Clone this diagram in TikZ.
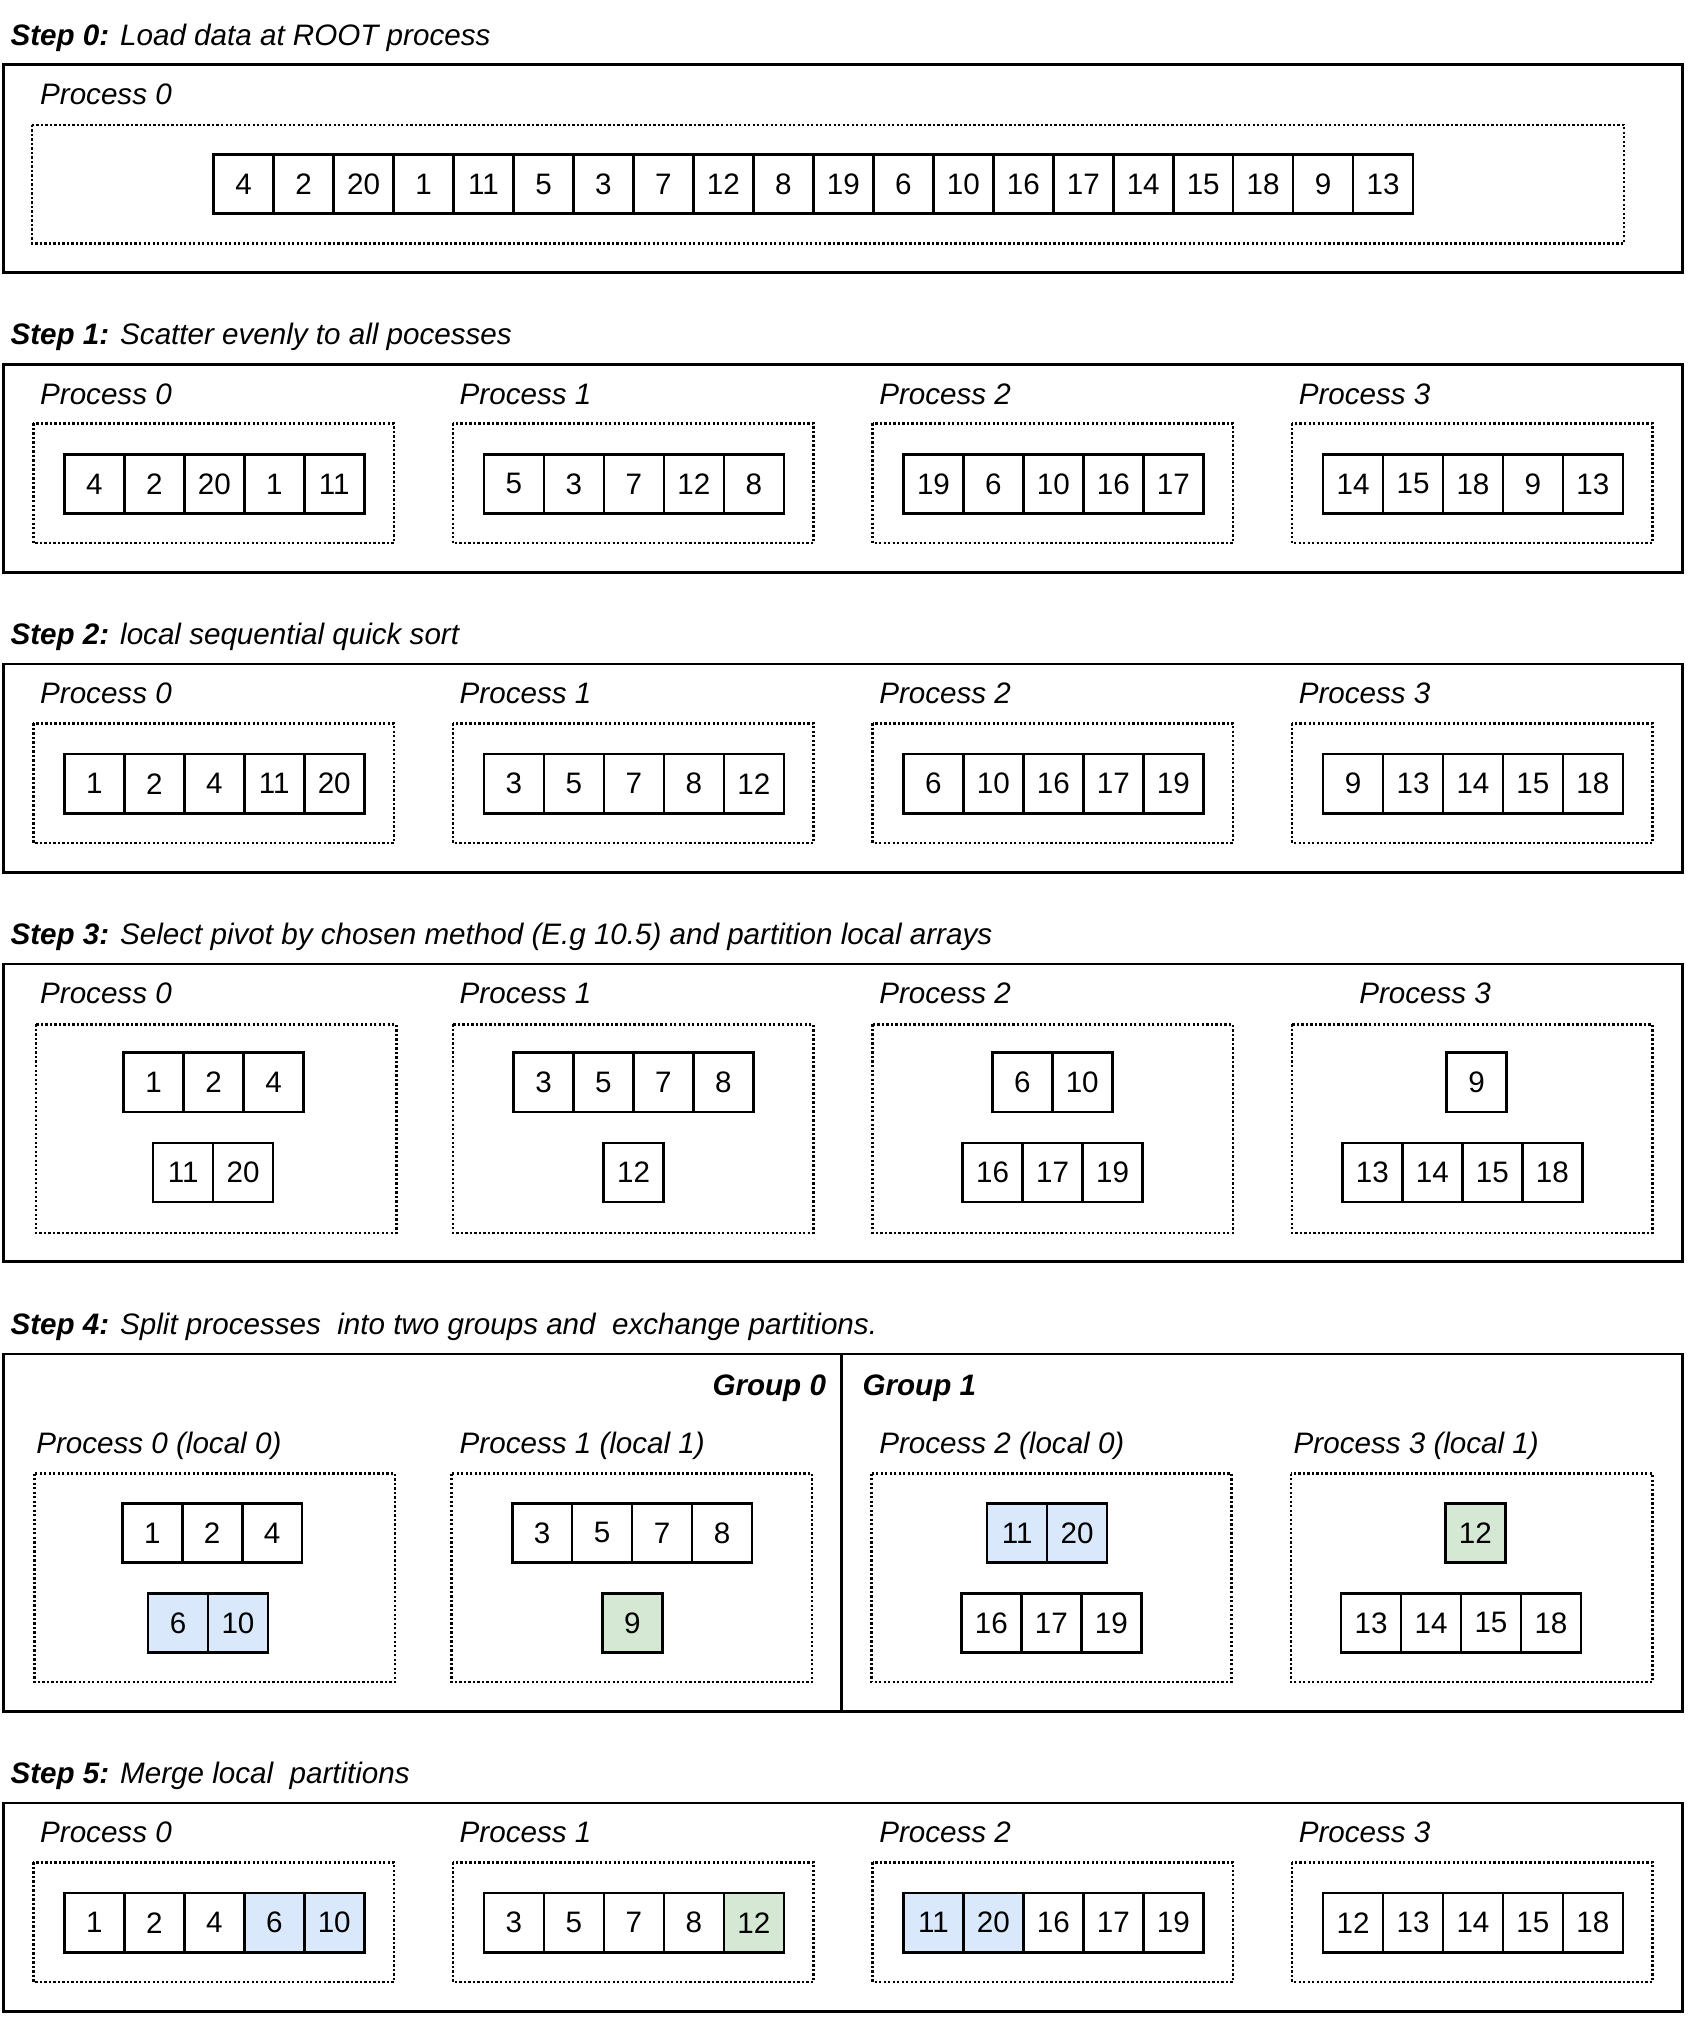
\documentclass[tikz,border=0pt]{standalone}
\usepackage{fontspec}
\setmainfont{Liberation Sans}
\definecolor{cblue}{HTML}{DAE8FC}
\definecolor{cgreen}{HTML}{D5E8D4}
\newcommand\cellrow[4]{%
  \foreach \v/\c [count=\i] in {#4} {%
    \node[cell,fill=\c] (#1-\i) at ({#2+(\i-0.5)*46.6},#3) {\v};}}
\begin{document}
\begin{tikzpicture}[x=1pt,y=-1pt,
  font=\fontsize{23}{27}\selectfont,
  outerbox/.style={draw,line width=2.1pt},
  procbox/.style={draw,line width=2pt,dash pattern=on 1.8pt off 1.7pt},
  cell/.style={draw,line width=2pt,minimum width=46.6pt,minimum height=46pt,inner sep=0pt},
  steptitle/.style={anchor=base west,inner sep=0pt,font=\fontsize{23}{27}\selectfont\itshape},
  plabel/.style={anchor=base west,inner sep=0pt,font=\fontsize{23}{27}\selectfont\itshape},
  glabel/.style={inner sep=0pt,font=\fontsize{23}{27}\selectfont\bfseries\itshape}]
\useasboundingbox (0,0) rectangle (1311,1568);

% ---------------- Step 0
\node[steptitle] (t0) at (8,35) {\textbf{Step 0:} Load data at ROOT process};
\draw[outerbox] (2.5,50) rectangle (1307.5,212);
\node[plabel] (s0p0) at (31,81) {Process 0};
\draw[procbox] (25,97) rectangle (1262,189);
\cellrow{a}{166}{143}{4/white,2/white,20/white,1/white,11/white,5/white,3/white,7/white,12/white,8/white,19/white,6/white,10/white,16/white,17/white,14/white,15/white,18/white,9/white,13/white}

% ---------------- Step 1
\node[steptitle] (t1) at (8,268) {\textbf{Step 1:} Scatter evenly to all pocesses};
\draw[outerbox] (2.5,283) rectangle (1307.5,445);
\foreach \k/\x in {0/31,1/357,2/683,3/1009}
  \node[plabel] (s1p\k) at (\x,314) {Process \k};
\foreach \x in {26,352,678,1004}
  \draw[procbox] (\x,329) rectangle (\x+280,422);
\cellrow{b0}{50}{376}{4/white,2/white,20/white,1/white,11/white}
\cellrow{b1}{376}{376}{5/white,3/white,7/white,12/white,8/white}
\cellrow{b2}{702}{376}{19/white,6/white,10/white,16/white,17/white}
\cellrow{b3}{1028}{376}{14/white,15/white,18/white,9/white,13/white}

% ---------------- Step 2
\node[steptitle] (t2) at (8,501) {\textbf{Step 2:} local sequential quick sort};
\draw[outerbox] (2.5,516) rectangle (1307.5,678);
\foreach \k/\x in {0/31,1/357,2/683,3/1009}
  \node[plabel] (s2p\k) at (\x,547) {Process \k};
\foreach \x in {26,352,678,1004}
  \draw[procbox] (\x,562) rectangle (\x+280,655);
\cellrow{c0}{50}{609}{1/white,2/white,4/white,11/white,20/white}
\cellrow{c1}{376}{609}{3/white,5/white,7/white,8/white,12/white}
\cellrow{c2}{702}{609}{6/white,10/white,16/white,17/white,19/white}
\cellrow{c3}{1028}{609}{9/white,13/white,14/white,15/white,18/white}

% ---------------- Step 3
\node[steptitle] (t3) at (8,734) {\textbf{Step 3:} Select pivot by chosen method (E.g 10.5) and partition local arrays};
\draw[outerbox] (2.5,749) rectangle (1307.5,980);
\node[plabel] (s3p0) at (31,780) {Process 0};
\node[plabel] (s3p1) at (357,780) {Process 1};
\node[plabel] (s3p2) at (683,780) {Process 2};
\node[plabel] (s3p3) at (1056,780) {Process 3};
\draw[procbox] (28,796) rectangle (308,958);
\draw[procbox] (352,796) rectangle (632,958);
\draw[procbox] (678,796) rectangle (958,958);
\draw[procbox] (1004,796) rectangle (1284,958);
\cellrow{d0t}{96}{841}{1/white,2/white,4/white}
\cellrow{d0b}{119}{911}{11/white,20/white}
\cellrow{d1t}{399}{841}{3/white,5/white,7/white,8/white}
\cellrow{d1b}{469}{911}{12/white}
\cellrow{d2t}{771}{841}{6/white,10/white}
\cellrow{d2b}{748}{911}{16/white,17/white,19/white}
\cellrow{d3t}{1124}{841}{9/white}
\cellrow{d3b}{1043}{911}{13/white,14/white,15/white,18/white}

% ---------------- Step 4
\node[steptitle] (t4) at (8,1037) {\textbf{Step 4:} Split processes\ \ into two groups and\ \ exchange partitions.};
\draw[outerbox] (2.5,1052) rectangle (1307.5,1330);
\draw[line width=2.1pt] (654,1052) -- (654,1330);
\node[glabel,anchor=base east] (g0) at (642,1084) {Group 0};
\node[glabel,anchor=base west] (g1) at (670,1084) {Group 1};
\node[plabel] (s4p0) at (28,1129) {Process 0 (local 0)};
\node[plabel] (s4p1) at (357,1129) {Process 1 (local 1)};
\node[plabel] (s4p2) at (683,1129) {Process 2 (local 0)};
\node[plabel] (s4p3) at (1005,1129) {Process 3 (local 1)};
\draw[procbox] (27,1145) rectangle (307,1307);
\draw[procbox] (351,1145) rectangle (631,1307);
\draw[procbox] (677,1145) rectangle (957,1307);
\draw[procbox] (1003,1145) rectangle (1284,1307);
\cellrow{e0t}{95}{1191}{1/white,2/white,4/white}
\cellrow{e0b}{115}{1261}{6/cblue,10/cblue}
\cellrow{e1t}{398}{1191}{3/white,5/white,7/white,8/white}
\cellrow{e1b}{468}{1261}{9/cgreen}
\cellrow{e2t}{767}{1191}{11/cblue,20/cblue}
\cellrow{e2b}{747}{1261}{16/white,17/white,19/white}
\cellrow{e3t}{1123}{1191}{12/cgreen}
\cellrow{e3b}{1042}{1261}{13/white,14/white,15/white,18/white}

% ---------------- Step 5
\node[steptitle] (t5) at (8,1386) {\textbf{Step 5:} Merge local\ \ partitions};
\draw[outerbox] (2.5,1401) rectangle (1307.5,1563);
\foreach \k/\x in {0/31,1/357,2/683,3/1009}
  \node[plabel] (s5p\k) at (\x,1432) {Process \k};
\foreach \x in {26,352,678,1004}
  \draw[procbox] (\x,1447) rectangle (\x+280,1540);
\cellrow{f0}{50}{1494}{1/white,2/white,4/white,6/cblue,10/cblue}
\cellrow{f1}{376}{1494}{3/white,5/white,7/white,8/white,12/cgreen}
\cellrow{f2}{702}{1494}{11/cblue,20/cblue,16/white,17/white,19/white}
\cellrow{f3}{1028}{1494}{12/white,13/white,14/white,15/white,18/white}
\end{tikzpicture}
\end{document}
